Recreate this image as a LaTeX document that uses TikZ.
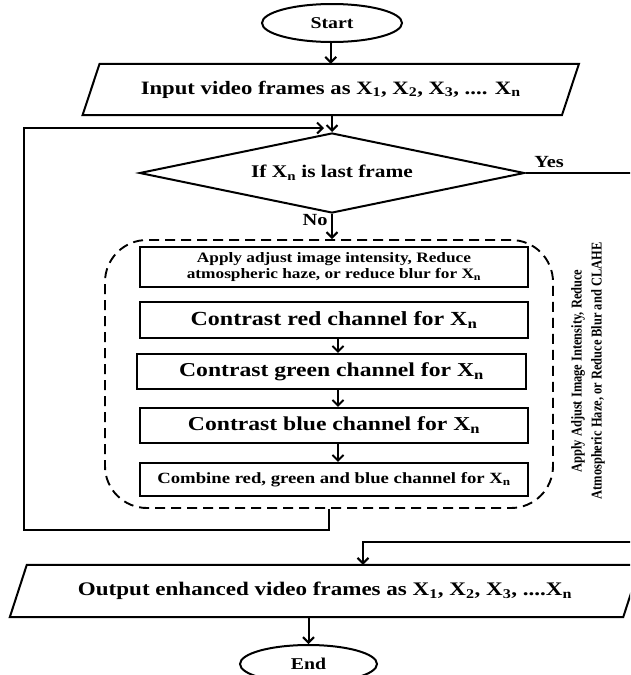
\documentclass[tikz,border=0pt]{standalone}
\usepackage{fontspec}
\setmainfont{Liberation Serif}[FakeStretch=1.2]
\newfontfamily\rotfont{Liberation Serif}[FakeStretch=0.83]
\usetikzlibrary{shapes.geometric,arrows.meta,calc}
\newcommand{\fs}[1]{\bfseries\fontsize{#1}{#1}\selectfont}
\begin{document}
\begin{tikzpicture}[x=1pt,y=-1pt,
  conn/.style={line width=2pt},
  arr/.style={line width=2pt,-{Straight Barb[length=5.5pt,width=11pt,line width=2pt]}},
  terminal/.style={ellipse,draw,line width=2pt,minimum width=140pt,minimum height=38pt,inner sep=0pt,font=\fs{16.5}},
  iobox/.style={rectangle,inner sep=0pt},
  outline/.style={line width=2pt,line join=miter},
  procbox/.style={rectangle,draw,line width=2.2pt,inner sep=0pt,align=center},
  decision/.style={diamond,draw,line width=2pt,inner sep=0pt,aspect=4.8,minimum width=385pt,minimum height=80pt},
  group/.style={draw,line width=1.9pt,dash pattern=on 10pt off 6pt,rounded corners=42pt,minimum width=448pt,minimum height=268pt},
  lbl/.style={inner sep=0pt,font=\fs{17}}
]
\useasboundingbox (0,0) rectangle (630,675);
\clip (0,0) rectangle (630,675);

% terminals
\node[terminal] (start) at (332,23) {Start};
\node[terminal,minimum width=137pt] (end) at (308.5,664) {End};

% input parallelogram
\node[iobox,minimum width=479pt,minimum height=51pt,font=\fs{18.9}] (in) at (330.75,89.5)
  {Input video frames as X\textsubscript{1}, X\textsubscript{2}, X\textsubscript{3}, .... X\textsubscript{n}};
\draw[outline] ($(in.south west)+(-8.5,0)$) -- ($(in.south east)+(-8.5,0)$)
  -- ($(in.north east)+(8.5,0)$) -- ($(in.north west)+(8.5,0)$) -- cycle;

% decision
\node[decision,font=\fs{17.8}] (dia) at (332,173) {If X\textsubscript{n} is last frame};

% group
\node[group] (grp) at (329,374) {};

% inner boxes
\node[procbox,minimum width=388pt,minimum height=40pt,font=\bfseries\fontsize{14.4}{16}\selectfont] (b1) at (334,267)
  {Apply adjust image intensity, Reduce\\atmospheric haze, or reduce blur for X\textsubscript{n}};
\node[procbox,minimum width=388pt,minimum height=36pt,font=\fs{20}] (b2) at (334,320)
  {Contrast red channel for X\textsubscript{n}};
\node[procbox,minimum width=389pt,minimum height=35pt,font=\fs{19.7}] (b3) at (331.5,371.5)
  {Contrast green channel for X\textsubscript{n}};
\node[procbox,minimum width=388pt,minimum height=35pt,font=\fs{19.7}] (b4) at (334,425.5)
  {Contrast blue channel for X\textsubscript{n}};
\node[procbox,minimum width=388pt,minimum height=33pt,font=\fs{15.6}] (b5) at (334,479.5)
  {Combine red, green and blue channel for X\textsubscript{n}};

% output parallelogram
\node[iobox,minimum width=613pt,minimum height=52pt,font=\fs{19.2}] (out) at (325,591)
  {Output enhanced video frames as X\textsubscript{1}, X\textsubscript{2}, X\textsubscript{3}, ....X\textsubscript{n}};
\draw[outline] ($(out.south west)+(-8.5,0)$) -- ($(out.south east)+(-8.5,0)$)
  -- ($(out.north east)+(8.5,0)$) -- ($(out.north west)+(8.5,0)$) -- cycle;

% side text
\node[rotate=90,align=center,inner sep=0pt,font=\rotfont\bfseries\fontsize{15}{20}\selectfont] (side) at (588,371)
  {Apply Adjust Image Intensity, Reduce\\Atmospheric Haze, or Reduce Blur and CLAHE};

% labels
\node[lbl] (yeslab) at (549,162) {Yes};
\node[lbl] (nolab) at (315,220) {No};

% coordinates
\coordinate (lj) at (324,128);
\coordinate (lb) at (24,530);
\coordinate (yr) at (633,173);
\coordinate (yb) at (633,542);

% connectors
\draw[arr] (start.south -| in.north) -- (in.north);
\draw[arr] (in.south -| dia.north) -- (dia.north);
\draw[arr] (grp.south) |- (lb) |- (lj);
\draw[arr] (dia.south) -- (dia.south |- grp.north);
\draw[arr] ([xshift=4pt]b2.south) -- ([xshift=4pt]b2.south |- b3.north);
\draw[arr] ([xshift=6.5pt]b3.south) -- ([xshift=6.5pt]b3.south |- b4.north);
\draw[arr] ([xshift=4pt]b4.south) -- ([xshift=4pt]b4.south |- b5.north);
\draw[conn] (dia.east) -- (yr) -- (yb);
\draw[arr] (yb) -| ([xshift=38pt]out.north);
\draw[arr] (out.south -| end.north) -- (end.north);
\end{tikzpicture}
\end{document}
